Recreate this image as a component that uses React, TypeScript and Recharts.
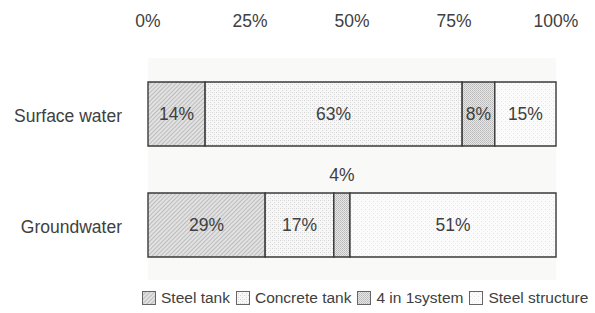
import { BarChart, Bar, XAxis, YAxis, CartesianGrid, LabelList } from 'recharts';

const categories = ['Surface water', 'Groundwater'];
const steelTank = [14, 29];
const concreteTank = [63, 17];
const fourInOne = [8, 4];
const steelStructure = [15, 51];
const ticks = [0, 0.25, 0.5, 0.75, 1];

const series = [
  { key: 'steel', name: 'Steel tank', fill: 'url(#pSteel)' },
  { key: 'concrete', name: 'Concrete tank', fill: 'url(#pConcrete)' },
  { key: 'system', name: '4 in 1system', fill: 'url(#pSystem)' },
  { key: 'structure', name: 'Steel structure', fill: 'url(#pStructure)' },
];

const data = categories.map((name, i) => ({
  name,
  steel: steelTank[i],
  concrete: concreteTank[i],
  system: fourInOne[i],
  structure: steelStructure[i],
}));

const TEXT = '#404040';
const FONT = '"Liberation Sans", Arial, sans-serif';
const FS = 17.5;

const renderLabel = (props: any) => {
  const { x, y, width, height, value } = props;
  const cx = x + width / 2;
  if (value < 5) {
    return (
      <text x={cx} y={y - 12} textAnchor="middle" fontSize={FS} fill={TEXT} fontFamily={FONT}>
        {value}%
      </text>
    );
  }
  return (
    <text x={cx} y={y + height / 2 + 6} textAnchor="middle" fontSize={FS} fill={TEXT} fontFamily={FONT}>
      {value}%
    </text>
  );
};

const swatch = (fill: string) => (
  <svg width={14} height={14} style={{ display: 'block' }}>
    <Patterns />
    <rect x={0.5} y={0.5} width={13} height={13} fill={fill} stroke="#666" />
  </svg>
);

function Patterns() {
  return (
    <defs>
      <pattern id="pSteel" width="3" height="3" patternUnits="userSpaceOnUse" patternTransform="rotate(45)">
        <rect width="3" height="3" fill="#e2e2e2" />
        <rect width="1" height="3" fill="#bcbcbc" />
      </pattern>
      <pattern id="pConcrete" width="4" height="4" patternUnits="userSpaceOnUse">
        <rect width="4" height="4" fill="#f7f7f7" />
        <rect x="0" y="0" width="1" height="1" fill="#d4d4d4" />
        <rect x="2" y="2" width="1" height="1" fill="#d4d4d4" />
        <rect x="2" y="0" width="1" height="1" fill="#e6e6e6" />
      </pattern>
      <pattern id="pSystem" width="2" height="2" patternUnits="userSpaceOnUse">
        <rect width="2" height="2" fill="#e6e6e6" />
        <rect x="0" y="0" width="1" height="1" fill="#b8b8b8" />
        <rect x="1" y="1" width="1" height="1" fill="#c6c6c6" />
      </pattern>
      <pattern id="pStructure" width="4" height="4" patternUnits="userSpaceOnUse">
        <rect width="4" height="4" fill="#fbfbfb" />
        <rect x="1" y="1" width="1" height="1" fill="#e2e2e2" />
        <rect x="3" y="3" width="1" height="1" fill="#ececec" />
      </pattern>
    </defs>
  );
}

export default function App() {
  return (
    <div style={{ position: 'relative', width: 595, height: 313, background: '#fff', fontFamily: FONT }}>
      <style>{'body{margin:0}'}</style>
      <BarChart
        width={595}
        height={313}
        data={data}
        layout="vertical"
        stackOffset="expand"
        barSize={64}
        margin={{ top: 0, right: 39, bottom: 33, left: 0 }}
      >
        <Patterns />
        <CartesianGrid horizontal={false} vertical={false} fill="#f9f9f7" />
        <XAxis
          type="number"
          orientation="top"
          domain={[0, 1]}
          ticks={ticks}
          tickFormatter={(v: number) => `${Math.round(v * 100)}%`}
          axisLine={false}
          tickLine={false}
          tickSize={0}
          tickMargin={31}
          height={58}
          tick={{ fill: TEXT, fontSize: FS, fontFamily: FONT }}
        />
        <YAxis
          type="category"
          dataKey="name"
          width={148}
          axisLine={false}
          tickLine={false}
          tickSize={0}
          tickMargin={26}
          tick={{ fill: TEXT, fontSize: FS, fontFamily: FONT, dy: 2 }}
        />
        {series.map((s) => (
          <Bar
            key={s.key}
            dataKey={s.key}
            name={s.name}
            stackId="a"
            fill={s.fill}
            stroke="#3a3a3a"
            strokeWidth={1.4}
            isAnimationActive={false}
          >
            <LabelList dataKey={s.key} content={renderLabel} />
          </Bar>
        ))}
      </BarChart>
      <div
        style={{
          position: 'absolute',
          top: 289,
          left: 142,
          display: 'flex',
          alignItems: 'center',
          fontSize: 15.5,
          color: TEXT,
          whiteSpace: 'nowrap',
        }}
      >
        {series.map((s) => (
          <div key={s.key} style={{ display: 'flex', alignItems: 'center', marginRight: 6 }}>
            {swatch(s.fill)}
            <span style={{ marginLeft: 5 }}>{s.name}</span>
          </div>
        ))}
      </div>
    </div>
  );
}
